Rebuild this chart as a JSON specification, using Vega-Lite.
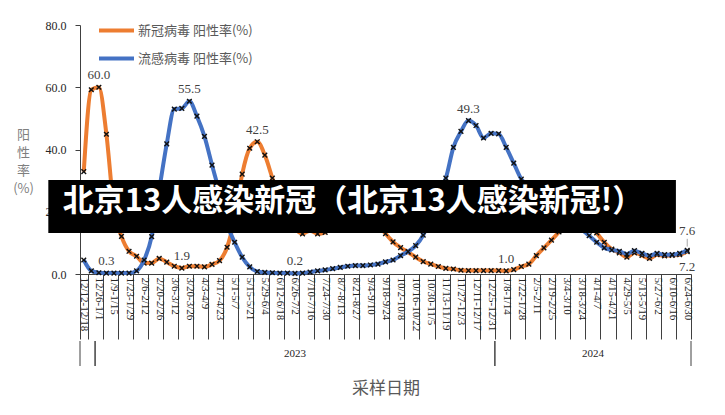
{
  "$schema": "https://vega.github.io/schema/vega-lite/v6.json",
  "padding": {"left": 12, "top": 11, "right": 5, "bottom": 5},
  "spacing": 0,
  "datasets": {
    "weeks": [
      {"week": "12/12-12/18", "covid": 32.9, "flu": 4.5},
      {"week": "12/19-12/25", "covid": 59.2, "flu": 1.0},
      {"week": "12/26-1/1", "covid": 60.0, "flu": 0.4, "covid_label": "60.0"},
      {"week": "1/2-1/8", "covid": 44.9, "flu": 0.3, "flu_label": "0.3"},
      {"week": "1/9-1/15", "covid": 21.0, "flu": 0.3},
      {"week": "1/16-1/22", "covid": 12.1, "flu": 0.3},
      {"week": "1/23-1/29", "covid": 7.3, "flu": 0.3},
      {"week": "1/30-2/5", "covid": 5.7, "flu": 1.0},
      {"week": "2/6-2/12", "covid": 3.5, "flu": 4.5},
      {"week": "2/13-2/19", "covid": 3.5, "flu": 12.0},
      {"week": "2/20-2/26", "covid": 5.0, "flu": 27.0},
      {"week": "2/27-3/5", "covid": 3.8, "flu": 41.8},
      {"week": "3/6-3/12", "covid": 2.5, "flu": 53.0},
      {"week": "3/13-3/19", "covid": 1.9, "flu": 53.2, "covid_label": "1.9"},
      {"week": "3/20-3/26", "covid": 2.5, "flu": 55.5, "flu_label": "55.5"},
      {"week": "3/27-4/2", "covid": 2.5, "flu": 50.7},
      {"week": "4/3-4/9", "covid": 2.3, "flu": 44.2},
      {"week": "4/10-4/16", "covid": 3.1, "flu": 35.0},
      {"week": "4/17-4/23", "covid": 4.3, "flu": 26.0},
      {"week": "4/24-4/30", "covid": 8.6, "flu": 16.0},
      {"week": "5/1-5/7", "covid": 18.0, "flu": 10.2},
      {"week": "5/8-5/14", "covid": 32.1, "flu": 5.4},
      {"week": "5/15-5/21", "covid": 40.4, "flu": 2.3},
      {"week": "5/22-5/28", "covid": 42.5, "flu": 0.8, "covid_label": "42.5"},
      {"week": "5/29-6/4", "covid": 38.2, "flu": 0.5},
      {"week": "6/5-6/11", "covid": 30.8, "flu": 0.4},
      {"week": "6/12-6/18", "covid": 23.0, "flu": 0.3},
      {"week": "6/19-6/25", "covid": 17.5, "flu": 0.3},
      {"week": "6/26-7/2", "covid": 14.5, "flu": 0.2, "flu_label": "0.2"},
      {"week": "7/3-7/9", "covid": 12.9, "flu": 0.3},
      {"week": "7/10-7/16", "covid": 14.0, "flu": 0.6},
      {"week": "7/17-7/23", "covid": 12.9, "flu": 1.0},
      {"week": "7/24-7/30", "covid": 13.4, "flu": 1.3},
      {"week": "7/31-8/6", "covid": 16.0, "flu": 1.7},
      {"week": "8/7-8/13", "covid": 18.5, "flu": 2.1},
      {"week": "8/14-8/20", "covid": 20.0, "flu": 2.5},
      {"week": "8/21-8/27", "covid": 20.5, "flu": 2.7},
      {"week": "8/28-9/3", "covid": 20.0, "flu": 2.7},
      {"week": "9/4-9/10", "covid": 18.5, "flu": 2.9},
      {"week": "9/11-9/17", "covid": 16.0, "flu": 3.2},
      {"week": "9/18-9/24", "covid": 13.0, "flu": 3.9},
      {"week": "9/25-10/1", "covid": 10.3, "flu": 4.5},
      {"week": "10/2-10/8", "covid": 8.5, "flu": 5.9},
      {"week": "10/9-10/15", "covid": 7.0, "flu": 7.2},
      {"week": "10/16-10/22", "covid": 5.4, "flu": 9.1},
      {"week": "10/23-10/29", "covid": 4.0, "flu": 12.5},
      {"week": "10/30-11/5", "covid": 3.2, "flu": 18.5},
      {"week": "11/6-11/12", "covid": 2.4, "flu": 25.5},
      {"week": "11/13-11/19", "covid": 1.8, "flu": 30.8},
      {"week": "11/20-11/26", "covid": 1.6, "flu": 40.7},
      {"week": "11/27-12/3", "covid": 1.2, "flu": 45.8},
      {"week": "12/4-12/10", "covid": 1.1, "flu": 49.3, "flu_label": "49.3"},
      {"week": "12/11-12/17", "covid": 1.1, "flu": 47.7},
      {"week": "12/18-12/24", "covid": 1.1, "flu": 43.7},
      {"week": "12/25-12/31", "covid": 1.1, "flu": 45.2},
      {"week": "1/1-1/7", "covid": 1.1, "flu": 45.0},
      {"week": "1/8-1/14", "covid": 1.0, "flu": 40.7, "covid_label": "1.0"},
      {"week": "1/15-1/21", "covid": 1.4, "flu": 35.6},
      {"week": "1/22-1/28", "covid": 2.4, "flu": 30.5},
      {"week": "1/29-2/4", "covid": 3.2, "flu": 28.0},
      {"week": "2/5-2/11", "covid": 5.9, "flu": 26.0},
      {"week": "2/12-2/18", "covid": 8.4, "flu": 24.0},
      {"week": "2/19-2/25", "covid": 10.9, "flu": 22.0},
      {"week": "2/26-3/3", "covid": 13.5, "flu": 20.0},
      {"week": "3/4-3/10", "covid": 16.0, "flu": 18.0},
      {"week": "3/11-3/17", "covid": 17.5, "flu": 16.2},
      {"week": "3/18-3/24", "covid": 17.8, "flu": 14.3},
      {"week": "3/25-3/31", "covid": 16.5, "flu": 12.3},
      {"week": "4/1-4/7", "covid": 13.2, "flu": 10.2},
      {"week": "4/8-4/14", "covid": 10.2, "flu": 8.4},
      {"week": "4/15-4/21", "covid": 8.0, "flu": 7.7},
      {"week": "4/22-4/28", "covid": 6.8, "flu": 7.3},
      {"week": "4/29-5/5", "covid": 5.4, "flu": 6.4},
      {"week": "5/6-5/12", "covid": 6.8, "flu": 7.5},
      {"week": "5/13-5/19", "covid": 6.0, "flu": 6.6},
      {"week": "5/20-5/26", "covid": 5.0, "flu": 5.9},
      {"week": "5/27-6/2", "covid": 6.2, "flu": 6.6},
      {"week": "6/3-6/9", "covid": 5.8, "flu": 6.2},
      {"week": "6/10-6/16", "covid": 6.0, "flu": 6.2},
      {"week": "6/17-6/23", "covid": 6.2, "flu": 6.6},
      {"week": "6/24-6/30", "covid": 7.2, "flu": 7.6, "covid_label": "7.2", "flu_label": "7.6"}
    ],
    "years": [
      {"year": "2022", "start": 0, "end": 2},
      {"year": "2023", "start": 2, "end": 55},
      {"year": "2024", "start": 55, "end": 81}
    ],
    "banner": [{"text": "北京13人感染新冠（北京13人感染新冠!）"}]
  },
  "vconcat": [
    {
      "width": 611,
      "height": 249,
      "layer": [
        {
          "data": {"name": "weeks"},
          "encoding": {
            "x": {
              "field": "week", "type": "ordinal", "sort": null,
              "scale": {"type": "band", "paddingInner": 0, "paddingOuter": 0},
              "axis": {
                "title": null,
                "values": ["12/12-12/18","12/26-1/1","1/9-1/15","1/23-1/29","2/6-2/12","2/20-2/26","3/6-3/12","3/20-3/26","4/3-4/9","4/17-4/23","5/1-5/7","5/15-5/21","5/29-6/4","6/12-6/18","6/26-7/2","7/10-7/16","7/24-7/30","8/7-8/13","8/21-8/27","9/4-9/10","9/18-9/24","10/2-10/8","10/16-10/22","10/30-11/5","11/13-11/19","11/27-12/3","12/11-12/17","12/25-12/31","1/8-1/14","1/22-1/28","2/5-2/11","2/19-2/25","3/4-3/10","3/18-3/24","4/1-4/7","4/15-4/21","4/29-5/5","5/13-5/19","5/27-6/2","6/10-6/16","6/24-6/30"],
                "labelAngle": 90, "labelAlign": "left", "labelBaseline": "middle",
                "labelFont": "Liberation Serif", "labelFontSize": 11, "labelColor": "#262626",
                "labelPadding": -62, "labelOverlap": false, "labelBound": false, "labelFlush": false,
                "tickSize": 65, "tickBand": "extent", "tickColor": "#404040", "tickWidth": 1,
                "domainColor": "#404040", "domainWidth": 1
              }
            }
          },
          "layer": [
            {
              "mark": {"type": "line", "interpolate": "monotone", "strokeWidth": 4},
              "encoding": {
                "y": {
                  "field": "covid", "type": "quantitative",
                  "scale": {"domain": [0, 80], "nice": false},
                  "axis": {
                    "values": [0, 20, 40, 60, 80], "format": ".1f", "grid": false,
                    "labelFont": "Liberation Serif", "labelFontSize": 12, "labelColor": "#262626", "labelPadding": 9,
                    "tickSize": 5, "tickColor": "#404040", "domainColor": "#404040",
                    "title": ["阳", "性", "率", "(%)"], "titleAngle": 0,
                    "titleFont": "Noto Sans CJK SC", "titleFontSize": 13, "titleFontWeight": "normal",
                    "titleColor": "#7f7f7f", "titleLineHeight": 18,
                    "titleAlign": "center", "titleBaseline": "middle", "titleX": -57, "titleY": 109
                  }
                },
                "color": {
                  "datum": "新冠病毒 阳性率(%)", "type": "nominal",
                  "scale": {"domain": ["新冠病毒 阳性率(%)", "流感病毒 阳性率(%)"], "range": ["#ED7D31", "#4472C4"]},
                  "legend": {
                    "title": null, "orient": "none", "legendX": 17, "legendY": -14, "padding": 0,
                    "symbolType": "stroke", "symbolSize": 1225, "symbolStrokeWidth": 4,
                    "labelFont": "Noto Sans CJK SC", "labelFontSize": 13, "labelColor": "#595959",
                    "labelOffset": 2, "rowPadding": -12
                  }
                }
              }
            },
            {
              "mark": {"type": "point", "shape": "M-1,-1L1,1M1,-1L-1,1", "filled": false, "stroke": "#111111", "strokeWidth": 1.4, "size": 22, "opacity": 1},
              "encoding": {"y": {"field": "covid", "type": "quantitative"}}
            },
            {
              "mark": {"type": "line", "interpolate": "monotone", "strokeWidth": 4},
              "encoding": {
                "y": {"field": "flu", "type": "quantitative"},
                "color": {"datum": "流感病毒 阳性率(%)", "type": "nominal"}
              }
            },
            {
              "mark": {"type": "point", "shape": "M-1,-1L1,1M1,-1L-1,1", "filled": false, "stroke": "#111111", "strokeWidth": 1.4, "size": 22, "opacity": 1},
              "encoding": {"y": {"field": "flu", "type": "quantitative"}}
            },
            {
              "transform": [{"filter": "isValid(datum.covid_label) && datum.week != '6/24-6/30'"}],
              "mark": {"type": "text", "dy": -12, "font": "Liberation Serif", "fontSize": 13, "color": "#404040"},
              "encoding": {"y": {"field": "covid", "type": "quantitative"}, "text": {"field": "covid_label"}}
            },
            {
              "transform": [{"filter": "datum.week == '6/24-6/30'"}],
              "mark": {"type": "text", "dy": 15, "font": "Liberation Serif", "fontSize": 13, "color": "#404040"},
              "encoding": {"y": {"field": "covid", "type": "quantitative"}, "text": {"field": "covid_label"}}
            },
            {
              "transform": [{"filter": "isValid(datum.flu_label) && datum.week != '6/24-6/30'"}],
              "mark": {"type": "text", "dy": -12, "font": "Liberation Serif", "fontSize": 13, "color": "#404040"},
              "encoding": {"y": {"field": "flu", "type": "quantitative"}, "text": {"field": "flu_label"}}
            },
            {
              "transform": [{"filter": "datum.week == '6/24-6/30'"}],
              "mark": {"type": "text", "dy": -19, "font": "Liberation Serif", "fontSize": 13, "color": "#404040"},
              "encoding": {"y": {"field": "flu", "type": "quantitative"}, "text": {"field": "flu_label"}}
            },
            {
              "transform": [{"filter": "datum.week == '6/24-6/30'"}],
              "mark": {"type": "rule", "color": "#a6a6a6", "strokeWidth": 1},
              "encoding": {"y": {"datum": 8.8, "type": "quantitative"}, "y2": {"datum": 11.3}}
            }
          ]
        },
        {
          "data": {"name": "banner"},
          "layer": [
            {
              "mark": {"type": "rect", "color": "#000000", "clip": false},
              "encoding": {
                "x": {"datum": -4.2, "type": "quantitative", "scale": {"domain": [0, 81], "nice": false, "zero": false}, "axis": null},
                "x2": {"datum": 79.0},
                "y": {"datum": 30.2, "type": "quantitative"},
                "y2": {"datum": 13.2}
              }
            },
            {
              "mark": {"type": "text", "align": "left", "baseline": "middle", "font": "Noto Sans CJK SC", "fontWeight": "bold", "fontSize": 31, "color": "#ffffff", "clip": false},
              "encoding": {
                "x": {"datum": -2.3, "type": "quantitative"},
                "y": {"datum": 23.0, "type": "quantitative"},
                "text": {"field": "text"}
              }
            }
          ]
        }
      ],
      "resolve": {"scale": {"x": "independent"}}
    },
    {
      "width": 611,
      "height": 25,
      "data": {"name": "years"},
      "layer": [
        {
          "mark": {"type": "rule", "color": "#404040", "strokeWidth": 1},
          "encoding": {
            "x": {
              "field": "start", "type": "quantitative",
              "scale": {"domain": [0, 81], "nice": false, "zero": false},
              "axis": {
                "title": "采样日期", "labels": false, "ticks": false, "domain": false, "grid": false,
                "titleFont": "Noto Sans CJK SC", "titleFontSize": 17, "titleFontWeight": "normal",
                "titleColor": "#595959", "titlePadding": 14
              }
            }
          }
        },
        {
          "mark": {"type": "rule", "color": "#404040", "strokeWidth": 1},
          "encoding": {"x": {"field": "end", "type": "quantitative"}}
        },
        {
          "transform": [
            {"filter": "datum.year != '2022'"},
            {"fold": ["start", "end"], "as": ["edge", "pos"]},
            {"aggregate": [{"op": "mean", "field": "pos", "as": "mid"}], "groupby": ["year"]}
          ],
          "mark": {"type": "text", "font": "Liberation Serif", "fontSize": 11, "color": "#262626", "baseline": "middle"},
          "encoding": {"x": {"field": "mid", "type": "quantitative"}, "text": {"field": "year"}}
        }
      ]
    }
  ],
  "config": {
    "view": {"stroke": null},
    "axis": {"labelFontWeight": "normal"}
  }
}
